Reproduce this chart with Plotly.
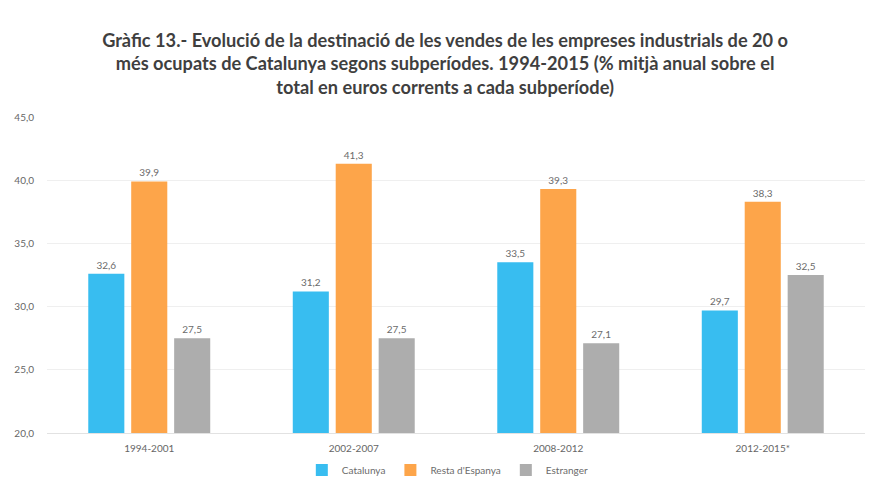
import plotly.graph_objects as go

categories = ["1994-2001", "2002-2007", "2008-2012", "2012-2015*"]
catalunya = [32.6, 31.2, 33.5, 29.7]
resta_espanya = [39.9, 41.3, 39.3, 38.3]
estranger = [27.5, 27.5, 27.1, 32.5]
series_names = ["Catalunya", "Resta d'Espanya", "Estranger"]
colors = ["#38BDF0", "#FDA54A", "#ADADAD"]

def fmt(v):
    return f"{v:.1f}".replace(".", ",")

fig = go.Figure()
for name, vals, col in zip(series_names, [catalunya, resta_espanya, estranger], colors):
    fig.add_trace(go.Bar(
        x=categories, y=vals, name=name,
        marker=dict(color=col, line=dict(width=0)),
        text=[fmt(v) for v in vals], textposition="outside",
        textfont=dict(family="Lato", size=10, color="#6b6b6b"),
        cliponaxis=False,
    ))

fig.update_layout(
    width=871, height=495,
    margin=dict(l=47, r=6, t=117, b=62, autoexpand=False),
    paper_bgcolor="white", plot_bgcolor="white",
    separators=",.",
    barmode="group", bargap=0.37, bargroupgap=0.16,
    title=dict(
        text="Gràfic 13.- Evolució de la destinació de les vendes de les empreses industrials de 20 o<br>"
             "més ocupats de Catalunya segons subperíodes. 1994-2015 (% mitjà anual sobre el<br>"
             "total en euros corrents a cada subperíode)",
        x=0.511, xanchor="center", y=0.906, yanchor="top",
        font=dict(family="Lato", size=18.2, color="#3f3f3f", weight="bold"),
    ),
    font=dict(family="Lato", color="#666666"),
    legend=dict(orientation="h", x=0.49, xanchor="center", y=-0.117, yanchor="middle",
                font=dict(size=10, color="#6b6b6b"), itemwidth=30, traceorder="normal"),
    showlegend=True,
)
fig.update_xaxes(showline=True, linecolor="#e2e2e2", linewidth=1, ticks="",
                 tickfont=dict(size=10, color="#666666"), showgrid=False,
                 ticklabelstandoff=6, automargin=False)
fig.update_yaxes(range=[20, 45], dtick=5, tickformat=".1f", showgrid=True,
                 gridcolor="#efefef", gridwidth=1, zeroline=False, showline=False,
                 tickfont=dict(size=10, color="#666666"), ticklabelstandoff=12,
                 automargin=False)

fig.write_html("out.html", config={"displayModeBar": False},
               post_script="document.body.style.margin='0';")
